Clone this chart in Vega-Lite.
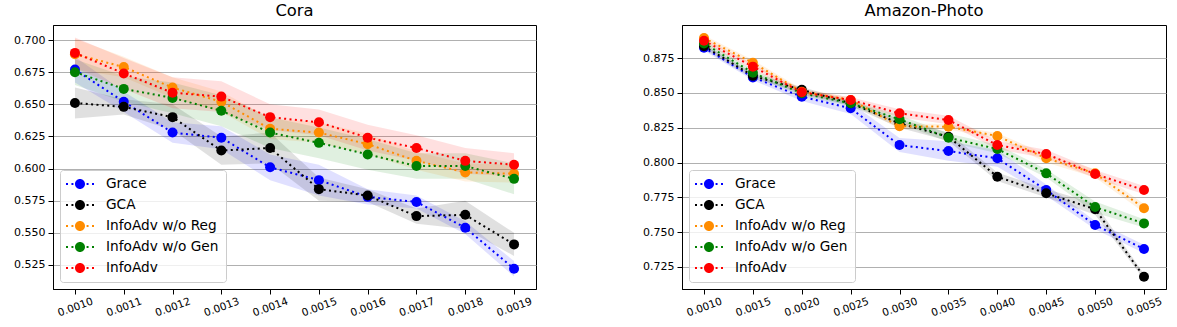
{
"$schema": "https://vega.github.io/schema/vega-lite/v6.json",
"padding": {"left": 13, "top": 2, "right": 5, "bottom": 5},
"spacing": 105,
"datasets": {
"cora": [
{"x":0.0010,"s":"Grace","m":0.677,"lo":0.667,"hi":0.687},
{"x":0.0011,"s":"Grace","m":0.652,"lo":0.644,"hi":0.660},
{"x":0.0012,"s":"Grace","m":0.628,"lo":0.620,"hi":0.636},
{"x":0.0013,"s":"Grace","m":0.624,"lo":0.615,"hi":0.633},
{"x":0.0014,"s":"Grace","m":0.601,"lo":0.591,"hi":0.611},
{"x":0.0015,"s":"Grace","m":0.591,"lo":0.579,"hi":0.603},
{"x":0.0016,"s":"Grace","m":0.578,"lo":0.572,"hi":0.584},
{"x":0.0017,"s":"Grace","m":0.574,"lo":0.569,"hi":0.579},
{"x":0.0018,"s":"Grace","m":0.554,"lo":0.549,"hi":0.559},
{"x":0.0019,"s":"Grace","m":0.522,"lo":0.516,"hi":0.528},
{"x":0.0010,"s":"GCA","m":0.651,"lo":0.639,"hi":0.663},
{"x":0.0011,"s":"GCA","m":0.648,"lo":0.642,"hi":0.654},
{"x":0.0012,"s":"GCA","m":0.640,"lo":0.630,"hi":0.650},
{"x":0.0013,"s":"GCA","m":0.614,"lo":0.603,"hi":0.625},
{"x":0.0014,"s":"GCA","m":0.616,"lo":0.604,"hi":0.628},
{"x":0.0015,"s":"GCA","m":0.584,"lo":0.575,"hi":0.593},
{"x":0.0016,"s":"GCA","m":0.579,"lo":0.574,"hi":0.584},
{"x":0.0017,"s":"GCA","m":0.563,"lo":0.557,"hi":0.569},
{"x":0.0018,"s":"GCA","m":0.564,"lo":0.553,"hi":0.575},
{"x":0.0019,"s":"GCA","m":0.541,"lo":0.532,"hi":0.550},
{"x":0.0010,"s":"InfoAdv w/o Reg","m":0.689,"lo":0.677,"hi":0.701},
{"x":0.0011,"s":"InfoAdv w/o Reg","m":0.679,"lo":0.671,"hi":0.687},
{"x":0.0012,"s":"InfoAdv w/o Reg","m":0.663,"lo":0.655,"hi":0.671},
{"x":0.0013,"s":"InfoAdv w/o Reg","m":0.652,"lo":0.644,"hi":0.660},
{"x":0.0014,"s":"InfoAdv w/o Reg","m":0.631,"lo":0.623,"hi":0.639},
{"x":0.0015,"s":"InfoAdv w/o Reg","m":0.628,"lo":0.620,"hi":0.636},
{"x":0.0016,"s":"InfoAdv w/o Reg","m":0.619,"lo":0.611,"hi":0.627},
{"x":0.0017,"s":"InfoAdv w/o Reg","m":0.606,"lo":0.599,"hi":0.613},
{"x":0.0018,"s":"InfoAdv w/o Reg","m":0.597,"lo":0.590,"hi":0.604},
{"x":0.0019,"s":"InfoAdv w/o Reg","m":0.596,"lo":0.589,"hi":0.603},
{"x":0.0010,"s":"InfoAdv w/o Gen","m":0.675,"lo":0.665,"hi":0.685},
{"x":0.0011,"s":"InfoAdv w/o Gen","m":0.662,"lo":0.652,"hi":0.672},
{"x":0.0012,"s":"InfoAdv w/o Gen","m":0.655,"lo":0.643,"hi":0.667},
{"x":0.0013,"s":"InfoAdv w/o Gen","m":0.645,"lo":0.633,"hi":0.657},
{"x":0.0014,"s":"InfoAdv w/o Gen","m":0.628,"lo":0.616,"hi":0.640},
{"x":0.0015,"s":"InfoAdv w/o Gen","m":0.620,"lo":0.608,"hi":0.632},
{"x":0.0016,"s":"InfoAdv w/o Gen","m":0.611,"lo":0.599,"hi":0.623},
{"x":0.0017,"s":"InfoAdv w/o Gen","m":0.602,"lo":0.592,"hi":0.612},
{"x":0.0018,"s":"InfoAdv w/o Gen","m":0.602,"lo":0.592,"hi":0.612},
{"x":0.0019,"s":"InfoAdv w/o Gen","m":0.592,"lo":0.580,"hi":0.604},
{"x":0.0010,"s":"InfoAdv","m":0.690,"lo":0.678,"hi":0.702},
{"x":0.0011,"s":"InfoAdv","m":0.674,"lo":0.662,"hi":0.686},
{"x":0.0012,"s":"InfoAdv","m":0.659,"lo":0.647,"hi":0.671},
{"x":0.0013,"s":"InfoAdv","m":0.656,"lo":0.644,"hi":0.668},
{"x":0.0014,"s":"InfoAdv","m":0.640,"lo":0.630,"hi":0.650},
{"x":0.0015,"s":"InfoAdv","m":0.636,"lo":0.626,"hi":0.646},
{"x":0.0016,"s":"InfoAdv","m":0.624,"lo":0.614,"hi":0.634},
{"x":0.0017,"s":"InfoAdv","m":0.616,"lo":0.606,"hi":0.626},
{"x":0.0018,"s":"InfoAdv","m":0.606,"lo":0.596,"hi":0.616},
{"x":0.0019,"s":"InfoAdv","m":0.603,"lo":0.594,"hi":0.612}
],
"amazon": [
{"x":0.0010,"s":"Grace","m":0.8824,"lo":0.8804,"hi":0.8844},
{"x":0.0015,"s":"Grace","m":0.8611,"lo":0.8591,"hi":0.8631},
{"x":0.0020,"s":"Grace","m":0.8472,"lo":0.8442,"hi":0.8502},
{"x":0.0025,"s":"Grace","m":0.8389,"lo":0.8349,"hi":0.8429},
{"x":0.0030,"s":"Grace","m":0.8125,"lo":0.8075,"hi":0.8175},
{"x":0.0035,"s":"Grace","m":0.8082,"lo":0.8012,"hi":0.8152},
{"x":0.0040,"s":"Grace","m":0.8030,"lo":0.7970,"hi":0.8090},
{"x":0.0045,"s":"Grace","m":0.7802,"lo":0.7762,"hi":0.7842},
{"x":0.0050,"s":"Grace","m":0.7551,"lo":0.7521,"hi":0.7581},
{"x":0.0055,"s":"Grace","m":0.7379,"lo":0.7349,"hi":0.7409},
{"x":0.0010,"s":"GCA","m":0.8835,"lo":0.8815,"hi":0.8855},
{"x":0.0015,"s":"GCA","m":0.8622,"lo":0.8602,"hi":0.8642},
{"x":0.0020,"s":"GCA","m":0.8522,"lo":0.8502,"hi":0.8542},
{"x":0.0025,"s":"GCA","m":0.8425,"lo":0.8405,"hi":0.8445},
{"x":0.0030,"s":"GCA","m":0.8280,"lo":0.8250,"hi":0.8310},
{"x":0.0035,"s":"GCA","m":0.8185,"lo":0.8155,"hi":0.8215},
{"x":0.0040,"s":"GCA","m":0.7898,"lo":0.7868,"hi":0.7928},
{"x":0.0045,"s":"GCA","m":0.7779,"lo":0.7749,"hi":0.7809},
{"x":0.0050,"s":"GCA","m":0.7665,"lo":0.7625,"hi":0.7705},
{"x":0.0055,"s":"GCA","m":0.7180,"lo":0.7160,"hi":0.7200},
{"x":0.0010,"s":"InfoAdv w/o Reg","m":0.8893,"lo":0.8873,"hi":0.8913},
{"x":0.0015,"s":"InfoAdv w/o Reg","m":0.8716,"lo":0.8696,"hi":0.8736},
{"x":0.0020,"s":"InfoAdv w/o Reg","m":0.8508,"lo":0.8488,"hi":0.8528},
{"x":0.0025,"s":"InfoAdv w/o Reg","m":0.8449,"lo":0.8429,"hi":0.8469},
{"x":0.0030,"s":"InfoAdv w/o Reg","m":0.8260,"lo":0.8240,"hi":0.8280},
{"x":0.0035,"s":"InfoAdv w/o Reg","m":0.8257,"lo":0.8237,"hi":0.8277},
{"x":0.0040,"s":"InfoAdv w/o Reg","m":0.8190,"lo":0.8170,"hi":0.8210},
{"x":0.0045,"s":"InfoAdv w/o Reg","m":0.8030,"lo":0.8000,"hi":0.8060},
{"x":0.0050,"s":"InfoAdv w/o Reg","m":0.7922,"lo":0.7892,"hi":0.7952},
{"x":0.0055,"s":"InfoAdv w/o Reg","m":0.7672,"lo":0.7642,"hi":0.7702},
{"x":0.0010,"s":"InfoAdv w/o Gen","m":0.8855,"lo":0.8835,"hi":0.8875},
{"x":0.0015,"s":"InfoAdv w/o Gen","m":0.8644,"lo":0.8624,"hi":0.8664},
{"x":0.0020,"s":"InfoAdv w/o Gen","m":0.8497,"lo":0.8477,"hi":0.8517},
{"x":0.0025,"s":"InfoAdv w/o Gen","m":0.8425,"lo":0.8405,"hi":0.8445},
{"x":0.0030,"s":"InfoAdv w/o Gen","m":0.8310,"lo":0.8280,"hi":0.8340},
{"x":0.0035,"s":"InfoAdv w/o Gen","m":0.8178,"lo":0.8148,"hi":0.8208},
{"x":0.0040,"s":"InfoAdv w/o Gen","m":0.8097,"lo":0.8067,"hi":0.8127},
{"x":0.0045,"s":"InfoAdv w/o Gen","m":0.7922,"lo":0.7892,"hi":0.7952},
{"x":0.0050,"s":"InfoAdv w/o Gen","m":0.7680,"lo":0.7640,"hi":0.7720},
{"x":0.0055,"s":"InfoAdv w/o Gen","m":0.7563,"lo":0.7533,"hi":0.7593},
{"x":0.0010,"s":"InfoAdv","m":0.8874,"lo":0.8854,"hi":0.8894},
{"x":0.0015,"s":"InfoAdv","m":0.8688,"lo":0.8668,"hi":0.8708},
{"x":0.0020,"s":"InfoAdv","m":0.8504,"lo":0.8484,"hi":0.8524},
{"x":0.0025,"s":"InfoAdv","m":0.8449,"lo":0.8429,"hi":0.8469},
{"x":0.0030,"s":"InfoAdv","m":0.8353,"lo":0.8323,"hi":0.8383},
{"x":0.0035,"s":"InfoAdv","m":0.8305,"lo":0.8275,"hi":0.8335},
{"x":0.0040,"s":"InfoAdv","m":0.8125,"lo":0.8095,"hi":0.8155},
{"x":0.0045,"s":"InfoAdv","m":0.8061,"lo":0.8031,"hi":0.8091},
{"x":0.0050,"s":"InfoAdv","m":0.7917,"lo":0.7887,"hi":0.7947},
{"x":0.0055,"s":"InfoAdv","m":0.7802,"lo":0.7772,"hi":0.7832}
]
},
"hconcat": [
{
"width": 483, "height": 264,
"title": "Cora",
"data": {"name": "cora"},
"encoding": {
"x": {"field": "x", "type": "quantitative",
"scale": {"domain": [0.000955, 0.001945], "nice": false, "zero": false},
"axis": {"title": null, "values": [0.0010,0.0011,0.0012,0.0013,0.0014,0.0015,0.0016,0.0017,0.0018,0.0019], "format": ".4f"}},
"y": {"field": "m", "type": "quantitative", "scale": {"domain": [0.5063, 0.7117], "nice": false, "zero": false},
"axis": {"title": null, "values": [0.525,0.55,0.575,0.6,0.625,0.65,0.675,0.7], "format": ".3f"}},
"color": {"field": "s", "type": "nominal", "legend": {"title": null},
"scale": {"domain": ["Grace","GCA","InfoAdv w/o Reg","InfoAdv w/o Gen","InfoAdv"], "range": ["#0000ff","#000000","#ff8c00","#008000","#ff0000"]}}
},
"layer": [
{"mark": {"type": "area", "opacity": 0.12},
"encoding": {
"y": {"field": "lo", "type": "quantitative", "scale": {"domain": [0.5063, 0.7117], "nice": false, "zero": false},
"axis": {"title": null, "values": [0.525,0.55,0.575,0.6,0.625,0.65,0.675,0.7], "format": ".3f"}},
"y2": {"field": "hi"}
}},
{"mark": {"type": "line", "strokeDash": [2, 3.4], "strokeWidth": 2}},
{"mark": {"type": "point", "filled": true, "opacity": 1, "size": 100}}
]
},
{
"width": 484, "height": 264,
"title": "Amazon-Photo",
"data": {"name": "amazon"},
"encoding": {
"x": {"field": "x", "type": "quantitative",
"scale": {"domain": [0.000775, 0.005725], "nice": false, "zero": false},
"axis": {"title": null, "values": [0.0010,0.0015,0.0020,0.0025,0.0030,0.0035,0.0040,0.0045,0.0050,0.0055], "format": ".4f"}},
"y": {"field": "m", "type": "quantitative", "scale": {"domain": [0.7092, 0.8987], "nice": false, "zero": false},
"axis": {"title": null, "values": [0.725,0.75,0.775,0.8,0.825,0.85,0.875], "format": ".3f"}},
"color": {"field": "s", "type": "nominal", "legend": {"title": null},
"scale": {"domain": ["Grace","GCA","InfoAdv w/o Reg","InfoAdv w/o Gen","InfoAdv"], "range": ["#0000ff","#000000","#ff8c00","#008000","#ff0000"]}}
},
"layer": [
{"mark": {"type": "area", "opacity": 0.12},
"encoding": {
"y": {"field": "lo", "type": "quantitative", "scale": {"domain": [0.7092, 0.8987], "nice": false, "zero": false},
"axis": {"title": null, "values": [0.725,0.75,0.775,0.8,0.825,0.85,0.875], "format": ".3f"}},
"y2": {"field": "hi"}
}},
{"mark": {"type": "line", "strokeDash": [2, 3.4], "strokeWidth": 2}},
{"mark": {"type": "point", "filled": true, "opacity": 1, "size": 100}}
]
}
],
"resolve": {"scale": {"color": "independent"}, "legend": {"color": "independent"}},
"config": {
"font": "DejaVu Sans",
"view": {"stroke": "black", "strokeWidth": 1},
"axis": {"domainColor": "black", "domainWidth": 1, "tickColor": "black", "tickSize": 5, "labelColor": "black", "labelFont": "DejaVu Sans", "labelFontSize": 11, "gridColor": "#b0b0b0", "gridWidth": 1, "gridOpacity": 1},
"axisX": {"grid": false, "labelAngle": -20, "labelAlign": "center", "labelBaseline": "middle", "labelPadding": 13, "labelFontSize": 10.5},
"axisY": {"labelPadding": 3},
"title": {"font": "DejaVu Sans", "fontSize": 16.4, "fontWeight": "normal", "color": "black", "offset": 6},
"legend": {
"orient": "bottom-left", "offset": 7, "fillColor": "rgba(255,255,255,0.8)", "strokeColor": "#cccccc", "cornerRadius": 3, "padding": 7,
"labelFont": "DejaVu Sans", "labelFontSize": 13.7, "labelColor": "black",
"symbolSize": 196, "symbolStrokeWidth": 0, "symbolOffset": 6, "labelOffset": 19, "rowPadding": 7, "symbolOpacity": 1,
"symbolType": "M-0.714,0A0.714,0.714,0,1,0,0.714,0A0.714,0.714,0,1,0,-0.714,0Z M-2,-0.143H-1.714V0.143H-2Z M-1.22,-0.143H-0.94V0.143H-1.22Z M0.94,-0.143H1.22V0.143H0.94Z M1.714,-0.143H2V0.143H1.714Z"
}
}
}
